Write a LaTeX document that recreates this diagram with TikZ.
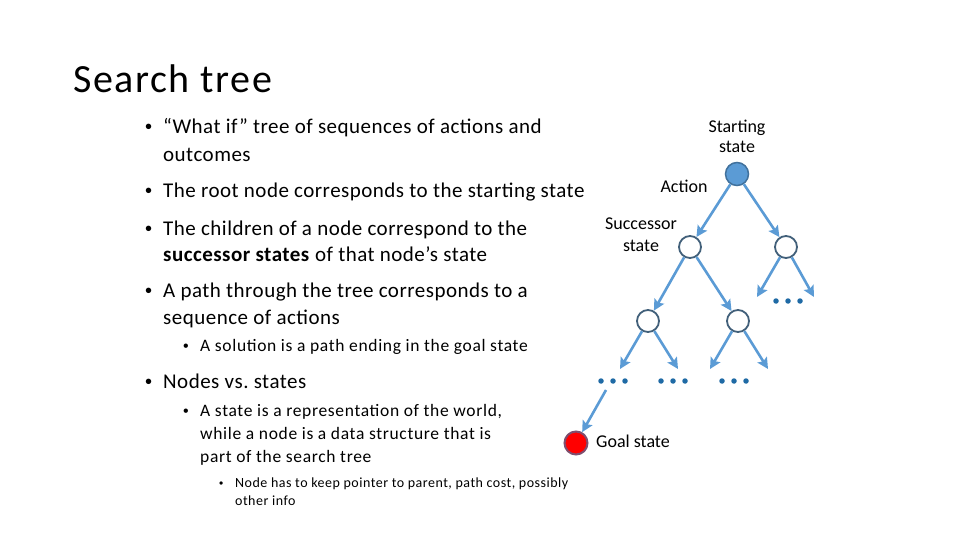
\documentclass[tikz,border=0pt]{standalone}
\usepackage{fontspec}
\setmainfont{Carlito}
\newfontfamily\fone[LetterSpace=2.3]{Carlito}
\newfontfamily\ftwo[LetterSpace=3.8]{Carlito}
\newfontfamily\fthree[LetterSpace=3.5]{Carlito}
\newfontfamily\ftitle[LetterSpace=4]{Carlito}
\newfontfamily\fbul{Liberation Sans}
\usetikzlibrary{arrows.meta}
\definecolor{edgeblue}{RGB}{91,155,213}
\definecolor{rootborder}{RGB}{65,113,156}
\definecolor{nodeborder}{RGB}{66,96,122}
\definecolor{dotblue}{RGB}{31,106,165}
\definecolor{goalborder}{RGB}{126,78,110}
\frenchspacing
\tikzset{
  x=1pt,y=-1pt,
  fz/.style={font=\fontsize{#1}{#1}\selectfont},
  titletxt/.style={anchor=base west,inner sep=0pt,font=\ftitle\fontsize{40}{40}\selectfont},
  txtone/.style={anchor=base west,inner sep=0pt,font=\fone\fontsize{21}{21}\selectfont},
  txttwo/.style={anchor=base west,inner sep=0pt,font=\ftwo\fontsize{17.5}{17.5}\selectfont},
  txtthree/.style={anchor=base west,inner sep=0pt,font=\fthree\fontsize{14}{14}\selectfont},
  bul/.style={anchor=base west,inner sep=0pt,font=\fbul\fontsize{#1}{#1}\selectfont},
  lbl/.style={anchor=base,inner sep=0pt,fz=18,align=center},
  stnode/.style={circle,draw=nodeborder,line width=1.8pt,fill=white,minimum size=22pt,inner sep=0pt},
  rootnode/.style={circle,draw=rootborder,line width=1.5pt,fill=edgeblue,minimum size=23pt,inner sep=0pt},
  goalnode/.style={circle,draw=goalborder,line width=2pt,fill=red,minimum size=23pt,inner sep=0pt},
  edge/.style={draw=edgeblue,line width=2.6pt,-{Stealth[length=11pt,width=11pt,inset=2pt]}},
  dot/.style={circle,fill=dotblue,minimum size=5.5pt,inner sep=0pt}
}
\begin{document}
\begin{tikzpicture}
\useasboundingbox (0,0) rectangle (960,540);
% title
\node[titletxt] (title) at (73,93) {Search tree};
% level 1 bullets
\node[bul=20] (b1) at (145,134) {•};
\node[txtone] (t1a) at (163,134) {“What if” tree of sequences of actions and};
\node[txtone] (t1b) at (163,161) {outcomes};
\node[bul=20] (b2) at (145,197) {•};
\node[txtone] (t2) at (163,197) {The root node corresponds to the starting state};
\node[bul=20] (b3) at (145,235) {•};
\node[txtone] (t3a) at (163,235) {The children of a node correspond to the};
\node[txtone] (t3b) at (163,261) {\textbf{successor states} of that node’s state};
\node[bul=20] (b4) at (145,297) {•};
\node[txtone] (t4a) at (163,297) {A path through the tree corresponds to a};
\node[txtone] (t4b) at (163,324) {sequence of actions};
\node[bul=16] (b5) at (183,351) {•};
\node[txttwo] (t5) at (200,351) {A solution is a path ending in the goal state};
\node[bul=20] (b6) at (145,388) {•};
\node[txtone] (t6) at (163,388) {Nodes vs. states};
\node[bul=16] (b7) at (183,416) {•};
\node[txttwo] (t7a) at (200,416) {A state is a representation of the world,};
\node[txttwo] (t7b) at (200,439) {while a node is a data structure that is};
\node[txttwo] (t7c) at (200,462) {part of the search tree};
\node[bul=12] (b8) at (219,487) {•};
\node[txtthree] (t8a) at (235,487) {Node has to keep pointer to parent, path cost, possibly};
\node[txtthree] (t8b) at (235,505) {other info};
% tree nodes
\node[rootnode] (root) at (737,174) {};
\node[stnode] (n1) at (690,247) {};
\node[stnode] (n2) at (786,247) {};
\node[stnode] (n3) at (648,321) {};
\node[stnode] (n4) at (738,321) {};
\node[goalnode] (goal) at (576,443) {};
% dots groups
\foreach \nm/\cx/\cy in {da/613/381, db/673/381, dc/734/381, dd/788/301}{
  \node[dot] (\nm1) at (\cx-12,\cy) {};
  \node[dot] (\nm2) at (\cx,\cy) {};
  \node[dot] (\nm3) at (\cx+12,\cy) {};
}
% free-end coordinates
\coordinate (e2a) at (757,297);
\coordinate (e2b) at (814,297);
\coordinate (e3a) at (620,369);
\coordinate (e3b) at (678,369);
\coordinate (e4a) at (710,369);
\coordinate (e4b) at (768,369);
\coordinate (gs) at (606,390);
% edges
\draw[edge] (root) -- (n1);
\draw[edge] (root) -- (n2);
\draw[edge] (n1) -- (n3);
\draw[edge] (n1) -- (n4);
\draw[edge] (n2) -- (e2a);
\draw[edge] (n2) -- (e2b);
\draw[edge] (n3) -- (e3a);
\draw[edge] (n3) -- (e3b);
\draw[edge] (n4) -- (e4a);
\draw[edge] (n4) -- (e4b);
\draw[edge] (gs) -- (goal);
% labels
\node[lbl] (lstart1) at (737,133) {Starting};
\node[lbl] (lstart2) at (737,153) {state};
\node[lbl] (laction) at (684,193) {Action};
\node[lbl] (lsucc1) at (641,229) {Successor};
\node[lbl] (lsucc2) at (641,251) {state};
\node[anchor=base west,inner sep=0pt,fz=18] (lgoal) at (596,447) {Goal state};
\end{tikzpicture}
\end{document}
